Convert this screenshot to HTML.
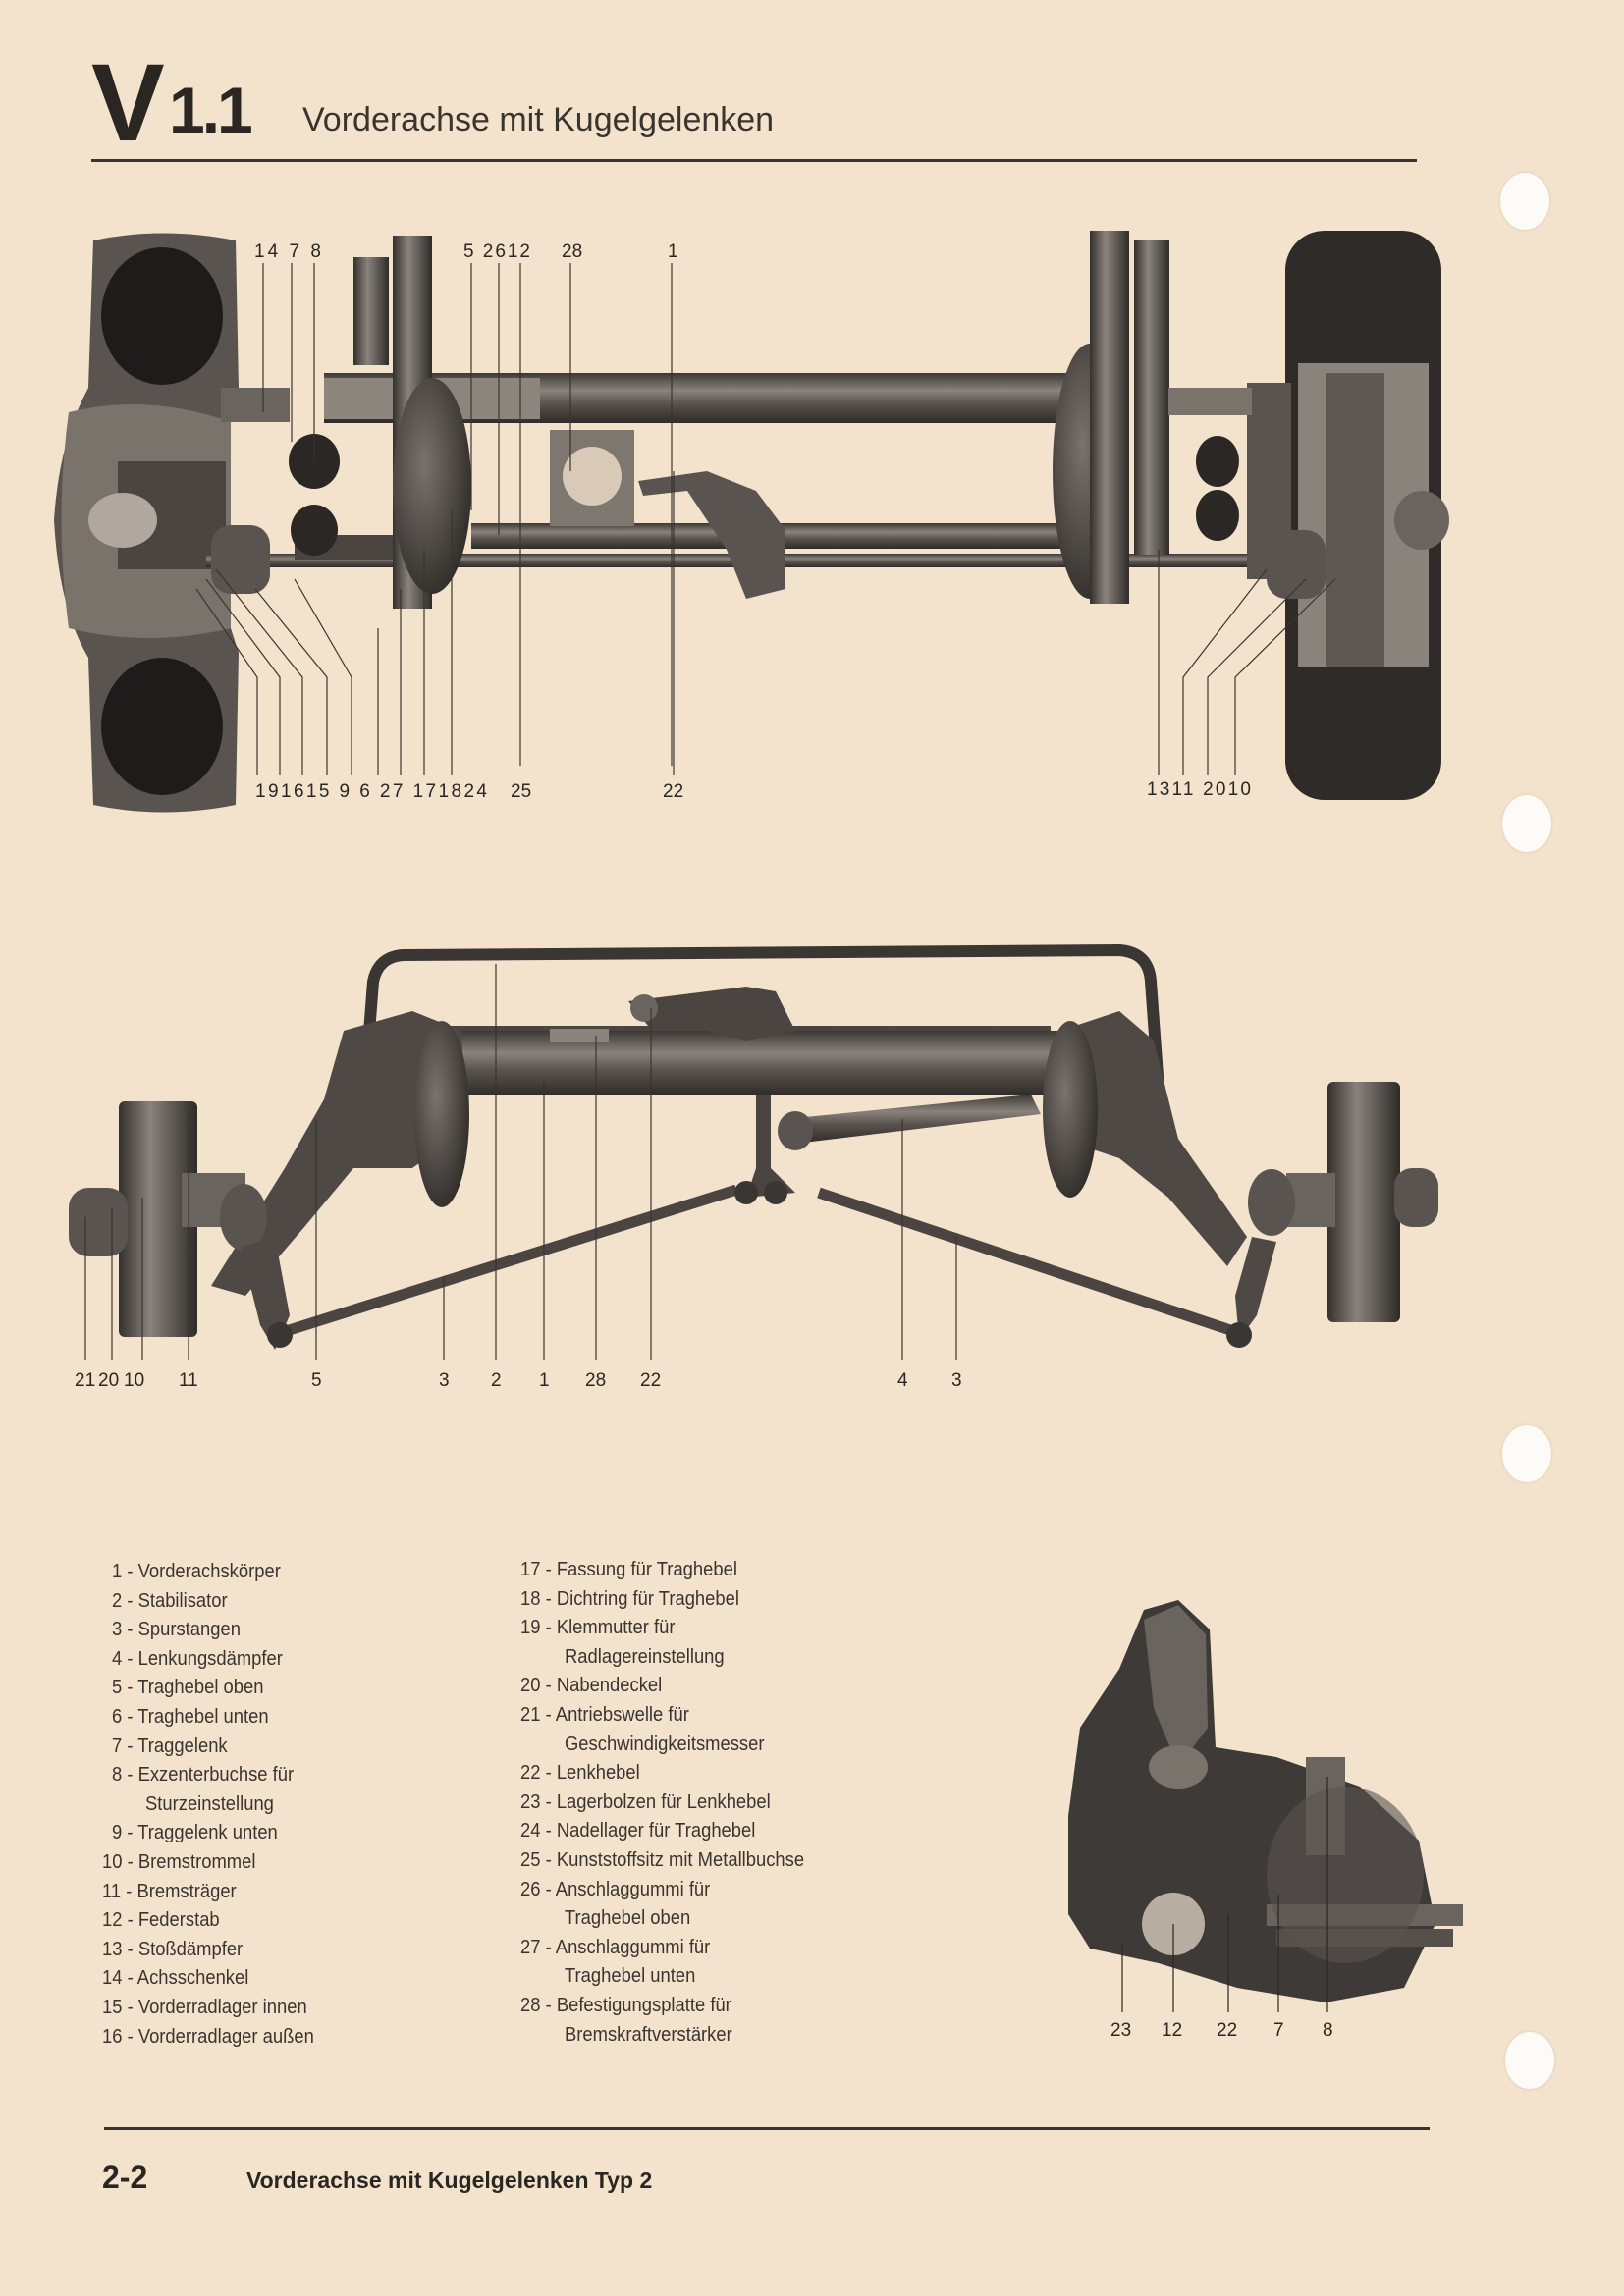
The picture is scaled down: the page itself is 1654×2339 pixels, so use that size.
<!DOCTYPE html>
<html><head><meta charset="utf-8"><style>
html,body{margin:0;padding:0}
body{width:1654px;height:2339px;background:#f4e3cc;position:relative;overflow:hidden;font-family:"Liberation Sans",sans-serif;color:#2a2622}
.a{position:absolute;white-space:nowrap}
.lg{position:absolute;font-size:20px;white-space:nowrap;color:#3a3430;transform:scaleX(0.92);transform-origin:left}
.hole{position:absolute;width:50px;height:58px;border-radius:50%;background:#fdfbf7;box-shadow:0 0 3px #d8c8b0}
svg{position:absolute;left:0;top:0}
</style></head><body>
<div class="a" style="left:93px;top:40px;font-size:112px;font-weight:bold;letter-spacing:-4px;color:#2a2622">V</div>
<div class="a" style="left:172px;top:74px;font-size:66px;font-weight:bold;letter-spacing:-3px;color:#2a2622">1.1</div>
<div class="a" style="left:308px;top:103px;font-size:34px;color:#3a3430">Vorderachse mit Kugelgelenken</div>
<div class="a" style="left:93px;top:162px;width:1350px;height:3px;background:#3a3430"></div>

<div class="hole" style="left:1528px;top:176px"></div>
<div class="hole" style="left:1530px;top:810px"></div>
<div class="hole" style="left:1530px;top:1452px"></div>
<div class="hole" style="left:1533px;top:2070px"></div>

<svg width="1654" height="2339" viewBox="0 0 1654 2339">
<defs>
<linearGradient id="cy" x1="0" y1="0" x2="0" y2="1"><stop offset="0" stop-color="#3c3835"/><stop offset=".35" stop-color="#8a837c"/><stop offset=".6" stop-color="#5a544f"/><stop offset="1" stop-color="#2e2b28"/></linearGradient>
<linearGradient id="cx" x1="0" y1="0" x2="1" y2="0"><stop offset="0" stop-color="#34302d"/><stop offset=".4" stop-color="#8a837c"/><stop offset="1" stop-color="#2e2b28"/></linearGradient>
<radialGradient id="dr" cx=".4" cy=".4" r=".7"><stop offset="0" stop-color="#7a736c"/><stop offset="1" stop-color="#2a2724"/></radialGradient>
</defs>
<!-- TOP DIAGRAM -->
<g>
<path d="M95 245 Q165 230 240 245 L243 395 L230 420 L235 640 L243 665 L240 820 Q165 835 95 820 L90 670 Q60 620 55 530 Q60 450 90 395 Z" fill="#5a5450"/>
<ellipse cx="165" cy="322" rx="62" ry="70" fill="#1e1c1a"/>
<ellipse cx="165" cy="740" rx="62" ry="70" fill="#1e1c1a"/>
<path d="M70 420 Q150 400 235 430 L235 640 Q150 660 70 640 Q55 530 70 420Z" fill="#7a736c"/>
<rect x="120" y="470" width="110" height="110" fill="#4a4541"/>
<ellipse cx="125" cy="530" rx="35" ry="28" fill="#b0a89e"/>
<rect x="1309" y="235" width="159" height="580" rx="40" fill="#2e2b28"/>
<rect x="1322" y="370" width="133" height="310" fill="#8a837c"/>
<rect x="1350" y="380" width="60" height="300" fill="#5e5853"/>
<ellipse cx="1448" cy="530" rx="28" ry="30" fill="#6a645e"/>
<rect x="330" y="380" width="760" height="51" fill="url(#cy)"/>
<rect x="330" y="385" width="220" height="42" fill="#8c857d"/>
<rect x="480" y="533" width="610" height="26" fill="url(#cy)"/>
<rect x="210" y="564" width="1095" height="14" fill="url(#cy)"/>
<rect x="300" y="545" width="100" height="25" fill="#4a4541"/>
<rect x="360" y="262" width="36" height="110" fill="url(#cx)"/>
<rect x="1155" y="245" width="36" height="320" fill="url(#cx)"/>
<rect x="400" y="240" width="40" height="380" fill="url(#cx)"/>
<ellipse cx="1110" cy="480" rx="38" ry="130" fill="url(#dr)"/>
<rect x="1110" y="235" width="40" height="380" fill="url(#cx)"/>
<ellipse cx="440" cy="495" rx="40" ry="110" fill="url(#dr)"/>
<rect x="560" y="438" width="86" height="98" fill="#7e776f"/>
<circle cx="603" cy="485" r="30" fill="#d8cab6"/>
<ellipse cx="320" cy="470" rx="26" ry="28" fill="#2a2724"/>
<ellipse cx="320" cy="540" rx="24" ry="26" fill="#2a2724"/>
<ellipse cx="1240" cy="470" rx="22" ry="26" fill="#2a2724"/>
<ellipse cx="1240" cy="525" rx="22" ry="26" fill="#2a2724"/>
<path d="M650 490 L720 480 L770 500 L800 540 L800 600 L760 610 L740 560 L700 500 L655 505Z" fill="#5a5450"/>
<rect x="225" y="395" width="70" height="35" fill="#6a645e"/>
<rect x="1270" y="390" width="45" height="200" fill="#5a5450"/>
<rect x="1190" y="395" width="85" height="28" fill="#7a736c"/>
<rect x="215" y="535" width="60" height="70" rx="20" fill="#5a5450"/>
<rect x="1290" y="540" width="60" height="70" rx="20" fill="#5a5450"/>
<g stroke="#3a3430" stroke-width="1.2" fill="none">
<path d="M268 268V420M297 268V450M320 268V470M480 268V520M508 268V545M530 268V780M581 268V480M684 268V780"/>
<path d="M262 790V690L200 600M285 790V690L210 590M308 790V690L220 580M333 790V690L260 600M358 790V690L300 590M385 790V640M408 790V600M432 790V560M460 790V520M686 790V480"/>
<path d="M1180 790V560M1205 790V690L1290 580M1230 790V690L1330 590M1258 790V690L1360 590"/>
</g>
</g>
<g font-family="Liberation Sans,sans-serif" font-size="19" fill="#2a2622" transform="translate(0,0)">
<text x="259" y="262" textLength="68">14 7 8</text>
<text x="472" y="262" textLength="68">5 2612</text>
<text x="572" y="262">28</text>
<text x="680" y="262">1</text>
<text x="260" y="812" textLength="236">191615 9 6 27 171824</text>
<text x="520" y="812">25</text>
<text x="675" y="812">22</text>
<text x="1168" y="810" textLength="106">1311 2010</text>
</g>
<!-- MIDDLE DIAGRAM -->
<g>
<path d="M370 1130 L380 1000 Q385 975 410 973 L1140 968 Q1170 970 1172 1000 L1180 1110" fill="none" stroke="#3a3633" stroke-width="12"/>
<rect x="430" y="1045" width="640" height="14" fill="#4a4541"/>
<rect x="465" y="1050" width="625" height="66" fill="url(#cy)"/>
<rect x="560" y="1048" width="60" height="14" fill="#8a837c"/>
<path d="M640 1020 L760 1005 L790 1010 L810 1050 L760 1060 L700 1045 L660 1045Z" fill="#4a4541"/>
<circle cx="656" cy="1027" r="14" fill="#6a645e"/>
<path d="M350 1050 L420 1030 L470 1050 L475 1150 L420 1190 L360 1190 L310 1250 L250 1320 L215 1310 L290 1190 L330 1120Z" fill="#4e4945"/>
<path d="M1080 1050 L1140 1030 L1175 1060 L1200 1160 L1270 1260 L1250 1290 L1190 1220 L1140 1180 L1080 1160Z" fill="#4e4945"/>
<ellipse cx="450" cy="1135" rx="28" ry="95" fill="url(#dr)"/>
<ellipse cx="1090" cy="1130" rx="28" ry="90" fill="url(#dr)"/>
<rect x="121" y="1122" width="80" height="240" rx="6" fill="url(#cx)"/>
<rect x="70" y="1210" width="60" height="70" rx="20" fill="#5a5450"/>
<rect x="185" y="1195" width="65" height="55" fill="#6a645e"/>
<ellipse cx="248" cy="1240" rx="24" ry="34" fill="#5a5450"/>
<path d="M245 1270 L280 1260 L295 1340 L280 1375 L265 1350Z" fill="#4e4945"/>
<rect x="1352" y="1102" width="74" height="245" rx="6" fill="url(#cx)"/>
<rect x="1420" y="1190" width="45" height="60" rx="18" fill="#5a5450"/>
<rect x="1310" y="1195" width="50" height="55" fill="#6a645e"/>
<ellipse cx="1295" cy="1225" rx="24" ry="34" fill="#5a5450"/>
<path d="M1275 1260 L1300 1265 L1280 1340 L1262 1365 L1258 1320Z" fill="#4e4945"/>
<line x1="285" y1="1358" x2="750" y2="1212" stroke="#4a4541" stroke-width="11"/>
<line x1="834" y1="1215" x2="1262" y2="1358" stroke="#4a4541" stroke-width="11"/>
<circle cx="285" cy="1360" r="13" fill="#3a3633"/>
<circle cx="1262" cy="1360" r="13" fill="#3a3633"/>
<path d="M770 1115 L785 1115 L785 1190 L810 1215 L760 1220 L770 1190Z" fill="#4a4541"/>
<circle cx="760" cy="1215" r="12" fill="#3a3633"/><circle cx="790" cy="1215" r="12" fill="#3a3633"/>
<path d="M800 1140 L1050 1115 L1060 1135 L810 1165Z" fill="url(#cy)"/>
<ellipse cx="810" cy="1152" rx="18" ry="20" fill="#5a5450"/>
<g stroke="#3a3430" stroke-width="1.2" fill="none">
<path d="M87 1385V1240M114 1385V1230M145 1385V1220M192 1385V1130M322 1385V1140M452 1385V1300M505 1385V982M554 1385V1100M607 1385V1055M663 1385V1027M919 1385V1140M974 1385V1260"/>
</g>
<g font-family="Liberation Sans,sans-serif" font-size="19" fill="#2a2622">
<text x="76" y="1412">21</text><text x="100" y="1412">20</text><text x="126" y="1412">10</text><text x="182" y="1412">11</text>
<text x="317" y="1412">5</text><text x="447" y="1412">3</text><text x="500" y="1412">2</text><text x="549" y="1412">1</text>
<text x="596" y="1412">28</text><text x="652" y="1412">22</text><text x="914" y="1412">4</text><text x="969" y="1412">3</text>
</g>
</g>
<!-- BOTTOM RIGHT PHOTO -->
<g>
<path d="M1088 1850 L1100 1760 L1140 1700 L1165 1640 L1200 1630 L1232 1660 L1238 1780 L1300 1790 L1385 1820 L1445 1875 L1462 1960 L1430 2025 L1350 2040 L1260 2025 L1180 2000 L1110 1985 L1088 1950Z" fill="#3e3a37"/>
<path d="M1165 1650 L1200 1635 L1228 1665 L1230 1760 L1200 1800 L1175 1740Z" fill="#6a645e"/>
<ellipse cx="1200" cy="1800" rx="30" ry="22" fill="#7a736c"/>
<ellipse cx="1195" cy="1960" rx="32" ry="32" fill="#b7ada0"/>
<rect x="1290" y="1940" width="200" height="22" fill="#6a645e"/>
<rect x="1300" y="1965" width="180" height="18" fill="#55504b"/>
<rect x="1330" y="1790" width="40" height="100" fill="#6a645e"/>
<ellipse cx="1370" cy="1910" rx="80" ry="90" fill="#5a5450" opacity=".6"/>
<g stroke="#2a2622" stroke-width="1.2"><path d="M1143 2050V1980M1195 2050V1960M1251 2050V1950M1302 2050V1930M1352 2050V1810"/></g>
<g font-family="Liberation Sans,sans-serif" font-size="19" fill="#2a2622">
<text x="1131" y="2074">23</text><text x="1183" y="2074">12</text><text x="1239" y="2074">22</text><text x="1297" y="2074">7</text><text x="1347" y="2074">8</text>
</g>
</g>
</svg>

<div class="lg" style="left:114px;top:1590px">1 - Vorderachskörper</div>
<div class="lg" style="left:114px;top:1620px">2 - Stabilisator</div>
<div class="lg" style="left:114px;top:1649px">3 - Spurstangen</div>
<div class="lg" style="left:114px;top:1679px">4 - Lenkungsdämpfer</div>
<div class="lg" style="left:114px;top:1708px">5 - Traghebel oben</div>
<div class="lg" style="left:114px;top:1738px">6 - Traghebel unten</div>
<div class="lg" style="left:114px;top:1768px">7 - Traggelenk</div>
<div class="lg" style="left:114px;top:1797px">8 - Exzenterbuchse für</div>
<div class="lg" style="left:148px;top:1827px">Sturzeinstellung</div>
<div class="lg" style="left:114px;top:1856px">9 - Traggelenk unten</div>
<div class="lg" style="left:104px;top:1886px">10 - Bremstrommel</div>
<div class="lg" style="left:104px;top:1916px">11 - Bremsträger</div>
<div class="lg" style="left:104px;top:1945px">12 - Federstab</div>
<div class="lg" style="left:104px;top:1975px">13 - Stoßdämpfer</div>
<div class="lg" style="left:104px;top:2004px">14 - Achsschenkel</div>
<div class="lg" style="left:104px;top:2034px">15 - Vorderradlager innen</div>
<div class="lg" style="left:104px;top:2064px">16 - Vorderradlager außen</div>

<div class="lg" style="left:530px;top:1588px">17 - Fassung für Traghebel</div>
<div class="lg" style="left:530px;top:1618px">18 - Dichtring für Traghebel</div>
<div class="lg" style="left:530px;top:1647px">19 - Klemmutter für</div>
<div class="lg" style="left:575px;top:1677px">Radlagereinstellung</div>
<div class="lg" style="left:530px;top:1706px">20 - Nabendeckel</div>
<div class="lg" style="left:530px;top:1736px">21 - Antriebswelle für</div>
<div class="lg" style="left:575px;top:1766px">Geschwindigkeitsmesser</div>
<div class="lg" style="left:530px;top:1795px">22 - Lenkhebel</div>
<div class="lg" style="left:530px;top:1825px">23 - Lagerbolzen für Lenkhebel</div>
<div class="lg" style="left:530px;top:1854px">24 - Nadellager für Traghebel</div>
<div class="lg" style="left:530px;top:1884px">25 - Kunststoffsitz mit Metallbuchse</div>
<div class="lg" style="left:530px;top:1914px">26 - Anschlaggummi für</div>
<div class="lg" style="left:575px;top:1943px">Traghebel oben</div>
<div class="lg" style="left:530px;top:1973px">27 - Anschlaggummi für</div>
<div class="lg" style="left:575px;top:2002px">Traghebel unten</div>
<div class="lg" style="left:530px;top:2032px">28 - Befestigungsplatte für</div>
<div class="lg" style="left:575px;top:2062px">Bremskraftverstärker</div>

<div class="a" style="left:106px;top:2167px;width:1350px;height:3px;background:#3a3430"></div>
<div class="a" style="left:104px;top:2200px;font-size:32px;font-weight:bold;color:#2a2622">2-2</div>
<div class="a" style="left:251px;top:2208px;font-size:23px;font-weight:bold;color:#2a2622">Vorderachse mit Kugelgelenken Typ 2</div>
</body></html>
